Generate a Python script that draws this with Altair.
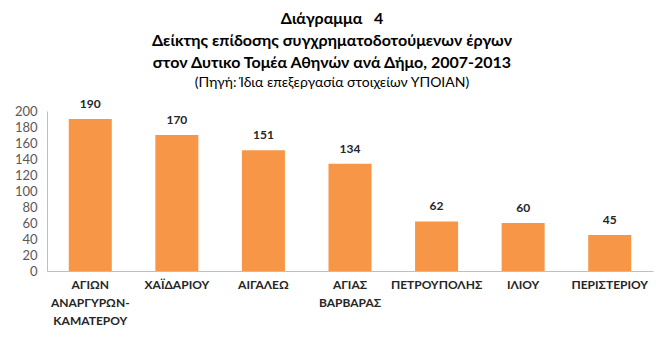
import altair as alt
import pandas as pd

municipalities = ["ΑΓΙΩΝ ΑΝΑΡΓΥΡΩΝ-ΚΑΜΑΤΕΡΟΥ", "ΧΑΪΔΑΡΙΟΥ", "ΑΙΓΑΛΕΩ", "ΑΓΙΑΣ ΒΑΡΒΑΡΑΣ",
                  "ΠΕΤΡΟΥΠΟΛΗΣ", "ΙΛΙΟΥ", "ΠΕΡΙΣΤΕΡΙΟΥ"]
values = [190, 170, 151, 134, 62, 60, 45]
y_ticks = [0, 20, 40, 60, 80, 100, 120, 140, 160, 180, 200]

title_lines = ["Διάγραμμα\u00a0\u00a0\u00a04",
               "Δείκτης επίδοσης συγχρηματοδοτούμενων έργων",
               "στον Δυτικο Τομέα Αθηνών ανά Δήμο, 2007-2013"]
subtitle = "(Πηγή: Ίδια επεξεργασία στοιχείων ΥΠΟΙΑΝ)"

df = pd.DataFrame({"dimos": municipalities, "value": values})

FONT = "Lato"

base = alt.Chart(df).encode(
    x=alt.X("dimos:N", sort=None, title=None,
            scale=alt.Scale(paddingInner=0.5, paddingOuter=0.25),
            axis=alt.Axis(labelAngle=0, ticks=False, domainColor="#bfbfbf",
                          labelFont=FONT, labelFontSize=12, labelFontWeight="bold",
                          labelColor="#262626", labelPadding=8, labelLineHeight=18,
                          labelExpr="split(replace(replace(datum.label, '-', '-|'), ' ', '|'), '|')")),
    y=alt.Y("value:Q", title=None,
            scale=alt.Scale(domain=[0, 200], nice=False),
            axis=alt.Axis(values=y_ticks, grid=False, ticks=False, domainColor="#bfbfbf",
                          labelFont=FONT, labelFontSize=13, labelColor="#595959",
                          labelPadding=10)),
)

bars = base.mark_bar(color="#F79646", size=43)
labels = base.mark_text(baseline="bottom", dy=-8, font=FONT, fontSize=12,
                        fontWeight="bold", color="#262626").encode(text="value:Q")

chart = (bars + labels).properties(
    width=606, height=160,
    padding={"left": 47, "top": 111, "right": 3, "bottom": 70},
    autosize=alt.AutoSizeParams(type="none"),
    title=alt.TitleParams(text=title_lines, subtitle=subtitle, anchor="middle", dx=-18,
                          font=FONT, fontSize=16, fontWeight="bold", color="#000000",
                          lineHeight=22, subtitleFont=FONT, subtitleFontSize=14,
                          subtitleColor="#000000", subtitlePadding=5, offset=8),
).configure_view(stroke=None)

chart.save("out.html", embed_options={"renderer": "svg", "actions": False})
